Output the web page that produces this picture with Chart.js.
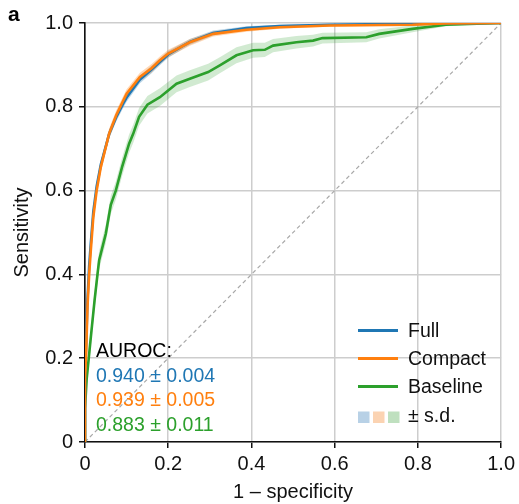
<!DOCTYPE html>
<html>
<head>
<meta charset="utf-8">
<title>ROC curves</title>
<script src="https://cdn.jsdelivr.net/npm/chart.js@4.4.1/dist/chart.umd.min.js"></script>
<style>
  body { margin: 0; background: #fff; }
  #wrap { position: relative; width: 519px; height: 504px; }
</style>
</head>
<body>
<div id="wrap"><canvas id="myChart" width="519" height="504"></canvas></div>
<script>
// values
let fprFull = [0, 0, 0.003, 0.006, 0.010, 0.014, 0.020, 0.028, 0.038, 0.058, 0.075, 0.092, 0.100, 0.132, 0.160, 0.180, 0.200, 0.252, 0.308, 0.388, 0.468, 0.588, 0.787, 0.867, 1.0];
let tprFull = [0, 0.17, 0.24, 0.34, 0.42, 0.475, 0.55, 0.61, 0.662, 0.735, 0.775, 0.808, 0.822, 0.865, 0.889, 0.907, 0.925, 0.955, 0.976, 0.988, 0.993, 0.996, 0.998, 0.999, 1.0];
let sdFull = [0, 0.01, 0.012, 0.012, 0.012, 0.012, 0.012, 0.011, 0.010, 0.010, 0.010, 0.010, 0.010, 0.009, 0.009, 0.008, 0.008, 0.007, 0.006, 0.004, 0.003, 0.002, 0.001, 0.001, 0];

let fprCompact = [0, 0, 0.003, 0.006, 0.010, 0.014, 0.020, 0.028, 0.038, 0.058, 0.075, 0.092, 0.100, 0.132, 0.160, 0.180, 0.200, 0.252, 0.308, 0.388, 0.468, 0.588, 0.787, 0.867, 1.0];
let tprCompact = [0, 0.15, 0.22, 0.323, 0.40, 0.458, 0.537, 0.60, 0.656, 0.736, 0.78, 0.815, 0.831, 0.871, 0.892, 0.911, 0.927, 0.954, 0.974, 0.984, 0.990, 0.994, 0.996, 0.999, 1.0];
let sdCompact = [0, 0.012, 0.014, 0.014, 0.014, 0.013, 0.013, 0.012, 0.012, 0.012, 0.011, 0.011, 0.011, 0.010, 0.010, 0.009, 0.009, 0.008, 0.006, 0.005, 0.004, 0.003, 0.002, 0.001, 0];

let fprBaseline = [0, 0, 0.004, 0.011, 0.015, 0.023, 0.030, 0.034, 0.050, 0.062, 0.074, 0.089, 0.106, 0.116, 0.130, 0.150, 0.180, 0.220, 0.252, 0.296, 0.324, 0.364, 0.404, 0.432, 0.452, 0.508, 0.548, 0.571, 0.676, 0.707, 0.787, 0.867, 1.0];
let tprBaseline = [0, 0.08, 0.15, 0.22, 0.26, 0.338, 0.40, 0.434, 0.497, 0.566, 0.60, 0.656, 0.712, 0.736, 0.776, 0.805, 0.823, 0.855, 0.867, 0.883, 0.899, 0.923, 0.935, 0.936, 0.946, 0.954, 0.958, 0.964, 0.966, 0.974, 0.986, 0.996, 1.0];
let sdBaseline = [0, 0.022, 0.022, 0.022, 0.022, 0.022, 0.022, 0.022, 0.022, 0.022, 0.022, 0.022, 0.022, 0.022, 0.021, 0.021, 0.021, 0.020, 0.020, 0.020, 0.019, 0.019, 0.018, 0.017, 0.016, 0.015, 0.014, 0.013, 0.012, 0.011, 0.008, 0.004, 0];

let seriesNames = ['Full', 'Compact', 'Baseline'];
let aurocMean = [0.940, 0.939, 0.883];
let aurocSd = [0.004, 0.005, 0.011];
let axisTicks = [0, 0.2, 0.4, 0.6, 0.8, 1.0];

let lineColors = ['#1f77b4', '#ff7f0e', '#2ca02c'];
let bandColors = ['rgba(31,119,180,0.3)', 'rgba(255,127,14,0.3)', 'rgba(44,160,44,0.22)'];
let swatchColors = ['#b8d1e6', '#fbd3b2', '#bfe0bf'];
const FONT = '"Liberation Sans", Arial, Helvetica, sans-serif';

function points(xs, ys) {
    return xs.map((x, i) => ({ x: x, y: ys[i] }));
}
function band(xs, ys, sd, sign) {
    return xs.map((x, i) => ({ x: x, y: Math.min(1, Math.max(0, ys[i] + sign * sd[i])) }));
}
function lineSet(label, data, color) {
    return { label: label, data: data, borderColor: color, borderWidth: 2.6, pointRadius: 0, tension: 0, fill: false };
}
function bandSet(data, fill, color) {
    return { label: '', data: data, borderWidth: 0, borderColor: 'rgba(0,0,0,0)', backgroundColor: color, pointRadius: 0, tension: 0, fill: fill };
}

const overlay = {
    id: 'overlay',
    afterDraw(chart) {
        const ctx = chart.ctx;
        ctx.save();
        ctx.textBaseline = 'alphabetic';
        ctx.textAlign = 'left';

        ctx.font = 'bold 21px ' + FONT;
        ctx.fillStyle = '#000';
        ctx.fillText('a', 8, 20.5);

        ctx.font = '19.5px ' + FONT;
        ctx.fillText('AUROC:', 96, 356.5);
        for (let i = 0; i < aurocMean.length; i++) {
            ctx.fillStyle = lineColors[i];
            ctx.fillText(aurocMean[i].toFixed(3) + ' \u00b1 ' + aurocSd[i].toFixed(3), 96, 381.5 + i * 24.5);
        }

        // legend
        for (let i = 0; i < seriesNames.length; i++) {
            let y = 330.5 + i * 28;
            ctx.strokeStyle = lineColors[i];
            ctx.lineWidth = 3;
            ctx.beginPath();
            ctx.moveTo(358, y);
            ctx.lineTo(398, y);
            ctx.stroke();
            ctx.fillStyle = '#111';
            ctx.fillText(seriesNames[i], 408, y + 6.5);
        }
        for (let i = 0; i < swatchColors.length; i++) {
            ctx.fillStyle = swatchColors[i];
            ctx.fillRect(358 + i * 15, 411.5, 11.5, 11.5);
        }
        ctx.fillStyle = '#111';
        ctx.fillText('\u00b1 s.d.', 408, 421.5);
        ctx.restore();
    }
};

const data = {
    datasets: [
        lineSet('Compact', points(fprCompact, tprCompact), lineColors[1]),
        lineSet('Full', points(fprFull, tprFull), lineColors[0]),
        lineSet('Baseline', points(fprBaseline, tprBaseline), lineColors[2]),
        bandSet(band(fprCompact, tprCompact, sdCompact, -1), false, bandColors[1]),
        bandSet(band(fprCompact, tprCompact, sdCompact, 1), '-1', bandColors[1]),
        bandSet(band(fprFull, tprFull, sdFull, -1), false, bandColors[0]),
        bandSet(band(fprFull, tprFull, sdFull, 1), '-1', bandColors[0]),
        bandSet(band(fprBaseline, tprBaseline, sdBaseline, -1), false, bandColors[2]),
        bandSet(band(fprBaseline, tprBaseline, sdBaseline, 1), '-1', bandColors[2]),
        {
            label: 'chance', data: points([0, 1], [0, 1]), borderColor: '#a8a8a8', borderWidth: 1.2,
            borderDash: [4, 3], pointRadius: 0, fill: false
        }
    ]
};

function tickLabel(v) {
    return v === 0 ? '0' : v.toFixed(1);
}

function axis(title, isX) {
    return {
        type: 'linear',
        min: 0,
        max: 1,
        afterBuildTicks: s => { s.ticks = axisTicks.map(v => ({ value: v })); },
        afterFit: s => { if (isX) { s.height = 62; } else { s.width = 85; } },
        ticks: {
            callback: tickLabel,
            color: '#111',
            font: { family: FONT, size: 20 },
            padding: isX ? 4 : 6,
            maxRotation: 0,
            autoSkip: false
        },
        grid: {
            color: '#cdcdcd',
            lineWidth: 1.5,
            drawTicks: true,
            tickLength: 6,
            tickColor: '#111',
            tickWidth: 1.5
        },
        border: { color: '#111', width: 1.6 },
        title: {
            display: true,
            text: title,
            color: '#111',
            font: { family: FONT, size: 20 },
            padding: isX ? { top: 0, bottom: 0 } : { top: 10, bottom: 0 }
        }
    };
}

const config = {
    type: 'line',
    data: data,
    options: {
        responsive: false,
        animation: false,
        layout: { padding: { top: 23, right: 17, left: 0, bottom: 0 } },
        plugins: {
            legend: { display: false },
            tooltip: { enabled: false },
            filler: { drawTime: 'beforeDatasetsDraw' }
        },
        scales: {
            x: axis('1 \u2013 specificity', true),
            y: axis('Sensitivity', false)
        }
    },
    plugins: [overlay]
};

const myChart = new Chart(document.getElementById('myChart'), config);
</script>
</body>
</html>
